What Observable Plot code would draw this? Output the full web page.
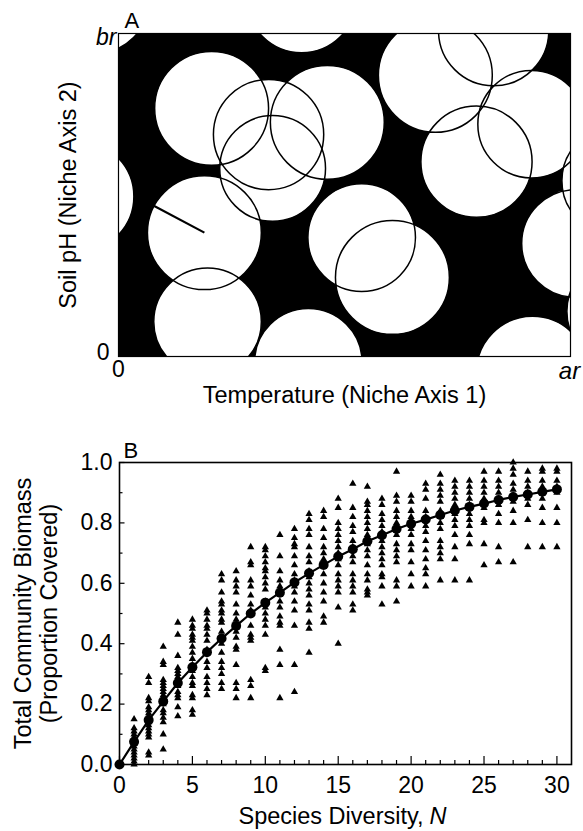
<!DOCTYPE html>
<html><head><meta charset="utf-8">
<script src="https://cdn.jsdelivr.net/npm/d3@7"></script>
<script src="https://cdn.jsdelivr.net/npm/@observablehq/plot@0.6"></script>
<style>
html,body{margin:0;padding:0;background:#fff;}
#chart svg{display:block;}
</style></head><body><div id="chart"></div>
<script>
// ---------- Panel A: niche space (units: ar = 100) ----------
const nicheAr = 100;
const nicheBr = 71.46;
const circleX = [-5.3, 20.6, 33.2, 34.1, 46.2, 40.5, -8.8, 19.0, 19.7, 42.0, 53.8, 60.6, 70.1, 83.0, 91.4, 79.2, 101.1, 110.0, 91.6, 111.1];
const circleY = [79.2, 54.9, 49.1, 41.6, 51.8, 79.4, 35.4, 27.4, 7.7, -1.3, 26.3, 17.5, 62.2, 72.1, 51.4, 43.1, 25.0, 38.9, -3.5, 10.0];
const circleR = [12.2, 12.6, 12.2, 11.7, 12.6, 12.2, 12.2, 12.6, 11.9, 11.9, 11.9, 12.6, 12.6, 12.2, 11.9, 12.3, 11.9, 11.9, 12.4, 11.9];
const radiusFrom = [19.0, 27.4];
const radiusTo = [7.7, 33.4];

// ---------- Panel B: diversity vs biomass ----------
const speciesN = [0,1,2,3,4,5,6,7,8,9,10,11,12,13,14,15,16,17,18,19,20,21,22,23,24,25,26,27,28,29,30];
const meanBiomass = [0, 0.075, 0.147, 0.209, 0.27, 0.322, 0.372, 0.417, 0.459, 0.5, 0.536, 0.569, 0.603, 0.633, 0.661, 0.689, 0.713, 0.739, 0.759, 0.78, 0.797, 0.811, 0.826, 0.841, 0.853, 0.864, 0.876, 0.886, 0.894, 0.903, 0.911];
const trialsByN = [
  [0],
  [0.15,0.12,0.11,0.10,0.09,0.08,0.07,0.06,0.05,0.04,0.03,0.02,0.01,0.0],
  [0.29,0.27,0.22,0.21,0.19,0.18,0.17,0.16,0.15,0.14,0.13,0.12,0.11,0.10,0.09,0.04,0.03],
  [0.39,0.34,0.33,0.28,0.27,0.26,0.25,0.24,0.23,0.22,0.21,0.20,0.18,0.17,0.155,0.14,0.10,0.05],
  [0.47,0.43,0.36,0.32,0.31,0.30,0.29,0.27,0.26,0.24,0.23,0.22,0.19,0.16],
  [0.48,0.46,0.45,0.43,0.42,0.41,0.39,0.37,0.35,0.33,0.31,0.29,0.27,0.26,0.23,0.22,0.18,0.165],
  [0.51,0.50,0.48,0.46,0.45,0.43,0.41,0.38,0.34,0.32,0.29,0.27,0.25,0.23],
  [0.63,0.61,0.57,0.54,0.53,0.51,0.50,0.48,0.47,0.44,0.42,0.40,0.37,0.34,0.32,0.30,0.27,0.25],
  [0.64,0.61,0.59,0.57,0.53,0.50,0.48,0.44,0.42,0.39,0.38,0.33,0.27,0.25,0.22],
  [0.72,0.67,0.66,0.61,0.59,0.56,0.53,0.51,0.46,0.43,0.42,0.41,0.28,0.26,0.22],
  [0.72,0.71,0.69,0.67,0.65,0.64,0.62,0.60,0.58,0.54,0.52,0.50,0.48,0.46,0.43,0.32,0.31],
  [0.76,0.69,0.64,0.61,0.59,0.57,0.54,0.52,0.49,0.47,0.46,0.38,0.33,0.22],
  [0.78,0.75,0.73,0.72,0.69,0.66,0.63,0.61,0.59,0.57,0.54,0.51,0.46,0.33,0.24],
  [0.83,0.81,0.78,0.76,0.72,0.69,0.67,0.64,0.62,0.60,0.58,0.56,0.53,0.51,0.47,0.45,0.37],
  [0.84,0.82,0.78,0.75,0.72,0.70,0.68,0.66,0.63,0.60,0.57,0.54,0.49,0.47],
  [0.88,0.85,0.80,0.78,0.76,0.74,0.72,0.70,0.68,0.66,0.63,0.61,0.59,0.57,0.52,0.40],
  [0.93,0.85,0.82,0.79,0.77,0.74,0.72,0.71,0.69,0.67,0.63,0.61,0.59,0.57,0.53,0.51],
  [0.92,0.87,0.86,0.84,0.82,0.80,0.78,0.76,0.73,0.71,0.69,0.66,0.63,0.61,0.58,0.57,0.56],
  [0.88,0.86,0.83,0.81,0.79,0.77,0.74,0.72,0.70,0.68,0.66,0.63,0.62,0.59,0.53],
  [0.97,0.89,0.87,0.84,0.82,0.80,0.78,0.76,0.73,0.71,0.69,0.67,0.61,0.59,0.54],
  [0.89,0.87,0.84,0.82,0.80,0.78,0.76,0.73,0.71,0.67,0.63,0.59],
  [0.93,0.91,0.88,0.84,0.82,0.79,0.77,0.74,0.71,0.68,0.65,0.63,0.59],
  [0.96,0.93,0.91,0.89,0.87,0.84,0.82,0.80,0.78,0.74,0.72,0.70,0.68,0.61],
  [0.94,0.92,0.90,0.88,0.86,0.83,0.81,0.79,0.76,0.72,0.68,0.61],
  [0.94,0.92,0.90,0.88,0.86,0.83,0.81,0.79,0.76,0.73,0.61],
  [0.97,0.94,0.92,0.90,0.88,0.85,0.81,0.80,0.73,0.66],
  [0.97,0.94,0.92,0.90,0.88,0.86,0.83,0.80,0.72,0.67],
  [1.0,0.98,0.96,0.93,0.91,0.89,0.87,0.84,0.80,0.67],
  [0.97,0.94,0.92,0.90,0.88,0.86,0.81,0.72],
  [0.98,0.97,0.94,0.92,0.90,0.88,0.85,0.80,0.72],
  [0.98,0.97,0.94,0.92,0.90,0.85,0.80,0.72]
];
const xTicksMajor = [0, 5, 10, 15, 20, 25, 30];
const xTicksMinor = [1,2,3,4,6,7,8,9,11,12,13,14,16,17,18,19,21,22,23,24,26,27,28,29];
const yTicksMajor = [0, 0.2, 0.4, 0.6, 0.8, 1.0];
const yTicksMinor = [0.1, 0.3, 0.5, 0.7, 0.9];

const FONT = "'Liberation Sans', Arial, Helvetica, sans-serif";
const baseStyle = {fontFamily: FONT, fontSize: "23px", color: "black", background: "white", overflow: "visible"};

// ---------- Panel A ----------
const wA = 583, hA = 415, mlA = 118, mrA = 13, mtA = 33, mbA = 59;
const innerWA = wA - mlA - mrA;
const circles = circleX.map((x, i) => ({x, y: circleY[i], r: circleR[i]}));
const radiusSeg = [{x1: radiusFrom[0], y1: radiusFrom[1], x2: radiusTo[0], y2: radiusTo[1]}];

const chartA = Plot.plot({
  width: wA, height: hA,
  marginLeft: mlA, marginRight: mrA, marginTop: mtA, marginBottom: mbA,
  style: baseStyle,
  x: {domain: [0, nicheAr], axis: null},
  y: {domain: [0, nicheBr], axis: null},
  r: {type: "linear", domain: [0, nicheAr], range: [0, innerWA]},
  marks: [
    Plot.frame({fill: "black", stroke: "none"}),
    Plot.dot(circles, {x: "x", y: "y", r: "r", fill: "white", stroke: "none", clip: true}),
    Plot.dot(circles, {x: "x", y: "y", r: "r", fill: "none", stroke: "black", strokeWidth: 1.5, clip: true}),
    Plot.link(radiusSeg, {x1: "x1", y1: "y1", x2: "x2", y2: "y2", stroke: "black", strokeWidth: 2.2}),
    Plot.frame({stroke: "black", strokeWidth: 1.2}),
    Plot.text(["A"], {frameAnchor: "top-left", textAnchor: "start", lineAnchor: "middle", dx: 6, dy: -13, fontSize: 22}),
    Plot.text([{x: 0, y: nicheBr, t: "br"}], {x: "x", y: "y", text: "t", textAnchor: "end", lineAnchor: "middle", dx: -2, dy: 4, fontSize: 23, fontStyle: "italic"}),
    Plot.text([{x: 0, y: 0, t: "0"}], {x: "x", y: "y", text: "t", textAnchor: "end", lineAnchor: "middle", dx: -9, dy: -4, fontSize: 23}),
    Plot.text([{x: 0, y: 0, t: "0"}], {x: "x", y: "y", text: "t", textAnchor: "middle", lineAnchor: "middle", dy: 13, fontSize: 23}),
    Plot.text([{x: nicheAr, y: 0, t: "ar"}], {x: "x", y: "y", text: "t", textAnchor: "middle", lineAnchor: "middle", dx: -1, dy: 15, fontSize: 24, fontStyle: "italic"}),
    Plot.text(["Temperature (Niche Axis 1)"], {frameAnchor: "bottom", textAnchor: "middle", lineAnchor: "middle", dy: 39, fontSize: 23.5}),
    Plot.text(["Soil pH (Niche Axis 2)"], {frameAnchor: "left", textAnchor: "middle", lineAnchor: "middle", rotate: -90, dx: -50, fontSize: 23.5})
  ]
});

// ---------- Panel B ----------
const trials = trialsByN.flatMap((vals, n) => vals.map(v => ({n, v})));
const means = speciesN.map((n, i) => ({n, v: meanBiomass[i]}));

const chartB = Plot.plot({
  width: 583, height: 416,
  marginLeft: 119, marginRight: 12, marginTop: 47, marginBottom: 67,
  style: baseStyle,
  x: {domain: [0, 31], axis: null, label: null},
  y: {domain: [0, 1], axis: null, label: null},
  marks: [
    Plot.axisX(xTicksMinor, {tickSize: -4, fill: "none", strokeWidth: 1.2, label: null}),
    Plot.axisX(xTicksMajor, {tickSize: -8, fill: "none", strokeWidth: 1.2, label: null}),
    Plot.axisX(xTicksMajor, {tickSize: 0, tickPadding: 12, fontSize: 23, label: null}),
    Plot.axisY(yTicksMinor, {tickSize: -3.5, fill: "none", strokeWidth: 1.2, label: null}),
    Plot.axisY(yTicksMajor, {tickSize: -5.5, fill: "none", strokeWidth: 1.2, label: null}),
    Plot.axisY(yTicksMajor, {tickSize: 0, tickPadding: 7, tickFormat: d3.format(".1f"), fontSize: 23, label: null}),
    Plot.dot(trials, {x: "n", y: "v", symbol: "triangle", r: 2.7, fill: "black", stroke: "none"}),
    Plot.line(means, {x: "n", y: "v", stroke: "black", strokeWidth: 2.2}),
    Plot.dot(means, {x: "n", y: "v", r: 5, fill: "black", stroke: "none"}),
    Plot.frame({stroke: "black", strokeWidth: 1.6}),
    Plot.text(["B"], {frameAnchor: "top-left", textAnchor: "start", lineAnchor: "middle", dx: 4, dy: -12, fontSize: 22}),
    Plot.text(["Total Community Biomass\n(Proportion Covered)"], {frameAnchor: "left", textAnchor: "middle", lineAnchor: "middle", rotate: -90, dx: -84, lineHeight: 1.1, fontSize: 23.5}),
    Plot.text(["Species Diversity,"], {frameAnchor: "bottom", textAnchor: "end", lineAnchor: "middle", dx: 78, dy: 52, fontSize: 23.5}),
    Plot.text(["N"], {frameAnchor: "bottom", textAnchor: "start", lineAnchor: "middle", dx: 84, dy: 52, fontSize: 23.5, fontStyle: "italic"})
  ]
});

const host = document.getElementById("chart");
host.appendChild(chartA);
host.appendChild(chartB);
</script>
</body></html>
